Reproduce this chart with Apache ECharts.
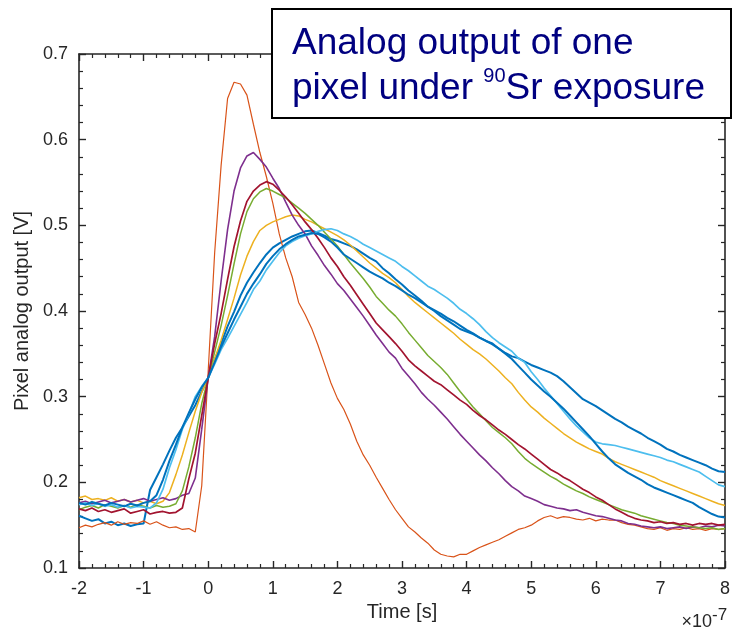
<!DOCTYPE html>
<html><head><meta charset="utf-8">
<script src="https://cdn.jsdelivr.net/npm/echarts@6/dist/echarts.min.js"></script>
<style>html,body{margin:0;padding:0;background:#fff}#c{width:733px;height:631px}</style>
</head><body><div id="c"></div>
<script>
// time axis in units of 1e-7 s
const times = [-2,-1.9,-1.8,-1.7,-1.6,-1.5,-1.4,-1.3,-1.2,-1.1,-1,-0.9,-0.8,-0.7,-0.6,-0.5,-0.4,-0.3,-0.2,-0.1,
 0,0.1,0.2,0.3,0.4,0.5,0.6,0.7,0.8,0.9,1,1.1,1.2,1.3,1.4,1.5,1.6,1.7,1.8,1.9,
 2,2.1,2.2,2.3,2.4,2.5,2.6,2.7,2.8,2.9,3,3.1,3.2,3.3,3.4,3.5,3.6,3.7,3.8,3.9,
 4,4.1,4.2,4.3,4.4,4.5,4.6,4.7,4.8,4.9,5,5.1,5.2,5.3,5.4,5.5,5.6,5.7,5.8,5.9,
 6,6.1,6.2,6.3,6.4,6.5,6.6,6.7,6.8,6.9,7,7.1,7.2,7.3,7.4,7.5,7.6,7.7,7.8,7.9,8];

const orangeTrace = [0.147,0.150,0.148,0.151,0.153,0.150,0.154,0.151,0.153,0.152,0.155,0.151,0.154,0.150,0.147,0.148,0.145,0.146,0.142,0.196,
 0.330,0.468,0.570,0.648,0.667,0.665,0.652,0.618,0.585,0.557,0.526,0.490,0.462,0.440,0.410,0.396,0.380,0.360,0.338,0.316,
 0.298,0.285,0.268,0.248,0.232,0.220,0.206,0.193,0.180,0.168,0.158,0.148,0.142,0.135,0.129,0.121,0.116,0.114,0.113,0.116,
 0.116,0.120,0.124,0.127,0.130,0.133,0.137,0.141,0.145,0.147,0.150,0.155,0.159,0.161,0.158,0.160,0.159,0.157,0.156,0.158,
 0.155,0.157,0.156,0.156,0.153,0.151,0.150,0.148,0.146,0.145,0.147,0.144,0.146,0.145,0.147,0.145,0.146,0.144,0.146,0.145,0.146];

const purpleTrace = [0.176,0.178,0.175,0.177,0.179,0.176,0.178,0.180,0.177,0.179,0.181,0.178,0.180,0.182,0.179,0.181,0.185,0.187,0.205,0.262,
 0.322,0.370,0.435,0.495,0.540,0.567,0.581,0.585,0.577,0.568,0.555,0.543,0.527,0.512,0.500,0.490,0.476,0.465,0.453,0.443,
 0.432,0.424,0.414,0.404,0.394,0.383,0.372,0.362,0.352,0.345,0.333,0.324,0.315,0.305,0.297,0.290,0.282,0.274,0.265,0.256,
 0.248,0.240,0.232,0.225,0.217,0.210,0.202,0.195,0.190,0.184,0.181,0.178,0.174,0.172,0.170,0.169,0.167,0.168,0.165,0.163,
 0.161,0.160,0.158,0.156,0.155,0.152,0.151,0.149,0.148,0.147,0.148,0.146,0.147,0.148,0.146,0.148,0.147,0.149,0.148,0.150,0.149];

const redTrace = [0.169,0.167,0.170,0.166,0.168,0.165,0.167,0.169,0.164,0.166,0.168,0.163,0.165,0.166,0.164,0.165,0.170,0.204,0.234,0.278,
 0.322,0.362,0.397,0.437,0.475,0.505,0.528,0.540,0.547,0.551,0.548,0.541,0.533,0.524,0.514,0.504,0.495,0.485,0.474,0.462,
 0.452,0.440,0.430,0.419,0.408,0.397,0.386,0.378,0.370,0.362,0.353,0.343,0.336,0.330,0.324,0.318,0.314,0.308,0.302,0.296,
 0.291,0.284,0.278,0.273,0.267,0.261,0.256,0.250,0.244,0.239,0.233,0.227,0.221,0.215,0.211,0.206,0.202,0.197,0.192,0.188,
 0.183,0.179,0.174,0.169,0.165,0.161,0.158,0.156,0.155,0.153,0.154,0.152,0.153,0.151,0.152,0.150,0.152,0.151,0.152,0.150,0.151];

const greenTrace = [0.168,0.171,0.173,0.170,0.174,0.172,0.170,0.173,0.171,0.174,0.172,0.170,0.173,0.171,0.172,0.175,0.190,0.218,0.252,0.292,
 0.322,0.352,0.383,0.418,0.455,0.490,0.516,0.531,0.539,0.543,0.540,0.536,0.532,0.526,0.520,0.514,0.507,0.500,0.492,0.484,
 0.476,0.466,0.456,0.447,0.438,0.428,0.417,0.409,0.401,0.394,0.385,0.375,0.366,0.357,0.348,0.341,0.334,0.326,0.316,0.306,
 0.297,0.288,0.280,0.272,0.264,0.258,0.252,0.245,0.236,0.228,0.222,0.217,0.212,0.207,0.203,0.198,0.194,0.190,0.187,0.183,
 0.180,0.177,0.174,0.171,0.168,0.166,0.164,0.161,0.159,0.157,0.155,0.153,0.152,0.150,0.149,0.148,0.147,0.146,0.147,0.145,0.146];

const yellowTrace = [0.182,0.184,0.180,0.181,0.179,0.182,0.178,0.180,0.177,0.179,0.176,0.178,0.175,0.178,0.188,0.209,0.232,0.258,0.283,0.305,
 0.322,0.344,0.366,0.390,0.415,0.442,0.464,0.481,0.494,0.500,0.504,0.507,0.510,0.512,0.511,0.507,0.504,0.500,0.496,0.492,
 0.488,0.483,0.477,0.470,0.463,0.456,0.450,0.444,0.439,0.433,0.425,0.417,0.410,0.404,0.398,0.392,0.386,0.380,0.374,0.367,
 0.361,0.355,0.350,0.344,0.337,0.330,0.322,0.315,0.305,0.296,0.288,0.282,0.275,0.269,0.263,0.257,0.252,0.247,0.243,0.239,
 0.236,0.233,0.228,0.224,0.221,0.218,0.215,0.212,0.209,0.206,0.202,0.199,0.196,0.193,0.190,0.187,0.184,0.181,0.178,0.175,0.173];

const lightBlueTrace = [0.174,0.176,0.173,0.175,0.172,0.174,0.171,0.173,0.170,0.172,0.171,0.170,0.176,0.192,0.217,0.238,0.262,0.280,0.300,0.312,
 0.322,0.338,0.355,0.368,0.382,0.396,0.410,0.425,0.435,0.448,0.458,0.468,0.476,0.481,0.485,0.488,0.490,0.493,0.495,0.496,
 0.494,0.490,0.487,0.483,0.478,0.474,0.470,0.466,0.462,0.458,0.452,0.447,0.441,0.435,0.429,0.425,0.420,0.415,0.409,0.402,
 0.397,0.391,0.384,0.376,0.369,0.363,0.358,0.353,0.345,0.340,0.329,0.320,0.310,0.301,0.292,0.283,0.274,0.266,0.259,0.252,
 0.247,0.245,0.244,0.243,0.241,0.239,0.237,0.235,0.233,0.231,0.229,0.226,0.224,0.221,0.218,0.215,0.212,0.207,0.202,0.197,0.195];

const blueTraceA = [0.161,0.158,0.155,0.157,0.152,0.154,0.150,0.152,0.149,0.151,0.152,0.191,0.206,0.221,0.237,0.252,0.264,0.277,0.290,0.306,
 0.322,0.343,0.362,0.382,0.399,0.418,0.433,0.445,0.456,0.466,0.474,0.479,0.483,0.487,0.490,0.493,0.494,0.491,0.488,0.484,
 0.482,0.479,0.476,0.472,0.467,0.462,0.458,0.450,0.444,0.437,0.431,0.424,0.418,0.412,0.405,0.401,0.397,0.392,0.388,0.383,
 0.378,0.374,0.369,0.365,0.361,0.356,0.351,0.347,0.345,0.341,0.337,0.334,0.331,0.328,0.324,0.318,0.311,0.304,0.297,0.293,
 0.289,0.284,0.279,0.274,0.270,0.265,0.261,0.257,0.252,0.248,0.244,0.239,0.236,0.232,0.229,0.226,0.223,0.220,0.216,0.213,0.212];

const blueTraceB = [0.176,0.174,0.177,0.175,0.173,0.176,0.174,0.172,0.175,0.173,0.176,0.178,0.185,0.203,0.225,0.244,0.264,0.281,0.297,0.311,
 0.322,0.340,0.358,0.374,0.390,0.405,0.420,0.432,0.443,0.455,0.464,0.472,0.478,0.483,0.487,0.489,0.491,0.490,0.486,0.481,
 0.474,0.466,0.461,0.456,0.451,0.446,0.442,0.438,0.433,0.429,0.424,0.419,0.415,0.410,0.405,0.400,0.394,0.389,0.384,0.379,
 0.376,0.373,0.369,0.365,0.362,0.356,0.350,0.344,0.336,0.328,0.320,0.313,0.306,0.300,0.293,0.286,0.278,0.270,0.262,0.254,
 0.245,0.236,0.228,0.221,0.216,0.211,0.207,0.203,0.198,0.194,0.191,0.188,0.185,0.182,0.179,0.176,0.171,0.167,0.163,0.160,0.159];

const traces = [
  {name:'A', values: blueTraceA, color:'#0072BD', w:2.0},
  {name:'B', values: orangeTrace, color:'#D95319', w:1.2},
  {name:'C', values: yellowTrace, color:'#EDB120', w:1.5},
  {name:'D', values: purpleTrace, color:'#7E2F8E', w:1.6},
  {name:'E', values: greenTrace, color:'#77AC30', w:1.5},
  {name:'F', values: lightBlueTrace, color:'#4DBEEE', w:1.7},
  {name:'G', values: redTrace, color:'#A2142F', w:1.7},
  {name:'H', values: blueTraceB, color:'#0072BD', w:2.0}
];

const FONT = '"Liberation Sans", Arial, sans-serif';
const AX = '#262626';
const chart = echarts.init(document.getElementById('c'), null, {renderer:'canvas'});

function axisCommon(){
  return {
    axisLine:{show:true,onZero:false,lineStyle:{color:AX,width:1.6}},
    axisTick:{show:true,inside:true,length:7,lineStyle:{color:AX,width:1.4}},
    minorTick:{show:true,splitNumber:5,length:4,lineStyle:{color:AX,width:1.2}},
    splitLine:{show:false},
    minorSplitLine:{show:false}
  };
}

const option = {
  animation:false,
  backgroundColor:'#ffffff',
  grid:{left:79,right:5,top:54,bottom:63,containLabel:false},
  xAxis:[
    Object.assign({type:'value',min:-2,max:8,interval:1,position:'bottom',
      axisLabel:{color:AX,fontSize:18,fontFamily:FONT,margin:12},
      name:'Time [s]',nameLocation:'middle',nameGap:33,
      nameTextStyle:{color:AX,fontSize:20,fontFamily:FONT}}, axisCommon()),
    Object.assign({type:'value',min:-2,max:8,interval:1,position:'top',
      axisLabel:{show:false}}, axisCommon())
  ],
  yAxis:[
    Object.assign({type:'value',min:0.1,max:0.7,interval:0.1,position:'left',
      axisLabel:{color:AX,fontSize:18,fontFamily:FONT,margin:11,formatter:v=>v.toFixed(1)},
      name:'Pixel analog output [V]',nameLocation:'middle',nameGap:43,
      nameTextStyle:{color:AX,fontSize:20,fontFamily:FONT}}, axisCommon()),
    Object.assign({type:'value',min:0.1,max:0.7,interval:0.1,position:'right',
      axisLabel:{show:false}}, axisCommon())
  ],
  series: traces.map(t=>({
    type:'line', name:t.name, xAxisIndex:0, yAxisIndex:0,
    data: times.map((x,i)=>[x,t.values[i]]),
    showSymbol:false, symbol:'none', smooth:false,
    lineStyle:{color:t.color,width:t.w}, itemStyle:{color:t.color},
    emphasis:{disabled:true}
  })),
  graphic:[
    {type:'rect',z:100,shape:{x:272,y:9,width:459,height:109},
     style:{fill:'#ffffff',stroke:'#000000',lineWidth:2}},
    {type:'text',z:101,x:292,y:21,
     style:{text:'Analog output of one\npixel under {sup|90}Sr exposure',
       fontSize:37,fontFamily:FONT,fill:'#000080',lineHeight:45,verticalAlign:'top',align:'left',
       rich:{sup:{fontSize:20,fontFamily:FONT,fill:'#000080',lineHeight:39,verticalAlign:'top'}}}},
    {type:'text',z:101,x:712,y:622,
     style:{text:'\u00d710',fontSize:18,fontFamily:FONT,fill:AX,align:'right',verticalAlign:'middle'}},
    {type:'text',z:101,x:712,y:615,
     style:{text:'-7',fontSize:17,fontFamily:FONT,fill:AX,align:'left',verticalAlign:'middle'}}
  ]
};
chart.setOption(option);
</script>
</body></html>
